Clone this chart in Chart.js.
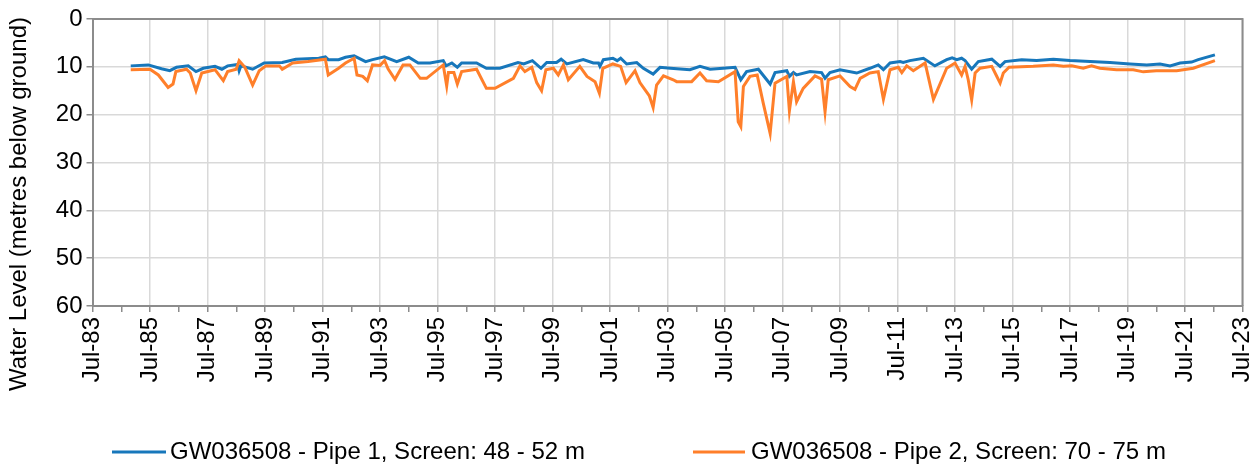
<!DOCTYPE html>
<html>
<head>
<meta charset="utf-8">
<script src="https://cdn.jsdelivr.net/npm/chart.js@4.4.1/dist/chart.umd.min.js"></script>
<style>
html,body{margin:0;padding:0;background:#fff;}
#wrap{width:1253px;height:465px;}
</style>
</head>
<body>
<div id="wrap"><canvas id="c" width="1253" height="465"></canvas></div>
<script>
// ---------------- data ----------------
const seriesNames = [
  'GW036508 - Pipe 1, Screen: 48 - 52 m',
  'GW036508 - Pipe 2, Screen: 70 - 75 m'
];
const axisTitleY = 'Water Level (metres below ground)';
const xTickLabels = ['Jul-83','Jul-85','Jul-87','Jul-89','Jul-91','Jul-93','Jul-95','Jul-97','Jul-99','Jul-01',
  'Jul-03','Jul-05','Jul-07','Jul-09','Jul-11','Jul-13','Jul-15','Jul-17','Jul-19','Jul-21','Jul-23'];
const yTickValues = [0, 10, 20, 30, 40, 50, 60];

// dates as decimal years, levels in metres below ground
const pipe1Dates = [1984.83,1985.44,1985.9,1986.19,1986.42,1986.83,1987.1,1987.35,1987.76,1988.0,
  1988.2,1988.55,1988.6,1988.66,1989.07,1989.47,1990.1,1990.57,1991.37,1991.6,
  1991.7,1992.06,1992.3,1992.6,1993.0,1993.24,1993.65,1994.08,1994.5,1994.83,
  1995.24,1995.7,1995.8,1996.0,1996.19,1996.34,1996.86,1997.2,1997.67,1998.3,
  1998.5,1998.8,1999.1,1999.3,1999.64,1999.8,2000.0,2000.57,2000.92,2001.1,
  2001.15,2001.27,2001.6,2001.75,2001.87,2002.08,2002.43,2002.66,2003.0,2003.24,
  2003.6,2004.28,2004.63,2004.98,2005.44,2005.85,2006.05,2006.25,2006.66,2007.07,
  2007.24,2007.65,2007.74,2007.88,2007.99,2008.46,2008.86,2008.98,2009.15,2009.5,
  2010.08,2010.54,2010.83,2011.01,2011.24,2011.59,2011.7,2011.93,2012.4,2012.8,
  2013.21,2013.4,2013.56,2013.73,2013.85,2014.08,2014.31,2014.78,2015.07,2015.24,
  2015.82,2016.34,2016.92,2017.5,2018.2,2018.89,2019.59,2020.17,2020.63,2020.98,
  2021.33,2021.73,2021.96,2022.54];
const pipe1Levels = [9.8,9.6,10.4,10.8,10.1,9.8,11.0,10.3,9.9,10.5,
  9.8,9.5,10.8,9.8,10.5,9.2,9.1,8.4,8.2,7.9,
  8.5,8.5,8.0,7.7,8.9,8.5,7.9,8.9,8.0,9.2,
  9.2,8.7,9.8,9.2,10.1,9.2,9.2,10.3,10.3,9.1,
  9.4,8.7,10.3,9.1,9.1,8.4,9.4,8.5,9.2,9.2,
  9.9,8.5,8.2,8.7,8.2,9.4,9.1,10.3,11.5,10.1,
  10.3,10.6,9.9,10.5,10.3,10.1,12.7,11.0,10.5,13.6,
  11.2,10.8,12.0,11.2,11.7,11.0,11.2,12.4,11.2,10.6,
  11.3,10.3,9.6,10.6,9.2,8.9,9.1,8.7,8.2,9.8,
  8.5,8.1,8.5,8.2,8.7,10.5,8.9,8.4,9.9,8.9,
  8.5,8.7,8.4,8.7,8.9,9.1,9.4,9.6,9.4,9.8,
  9.2,9.0,8.5,7.5];

const pipe2Dates = [1984.83,1985.5,1985.79,1986.13,1986.3,1986.4,1986.77,1986.9,1987.1,1987.3,
  1987.76,1988.05,1988.2,1988.5,1988.6,1988.8,1989.07,1989.3,1989.53,1990.0,
  1990.1,1990.46,1991.0,1991.6,1991.7,1992.06,1992.3,1992.6,1992.7,1992.9,
  1993.06,1993.24,1993.5,1993.66,1993.78,1994.02,1994.3,1994.54,1994.9,1995.12,
  1995.7,1995.82,1995.88,1996.07,1996.19,1996.34,1996.86,1997.2,1997.5,1998.14,
  1998.37,1998.54,1998.78,1998.95,1999.12,1999.27,1999.53,1999.7,1999.88,2000.05,
  2000.45,2000.7,2000.98,2001.13,2001.25,2001.6,2001.87,2002.06,2002.37,2002.54,
  2002.72,2002.87,2003.0,2003.12,2003.36,2003.7,2003.82,2004.34,2004.63,2004.86,
  2005.27,2005.85,2005.96,2006.05,2006.14,2006.37,2006.62,2006.83,2007.07,2007.24,
  2007.65,2007.74,2007.88,2007.99,2008.22,2008.63,2008.86,2008.98,2009.09,2009.5,
  2009.85,2010.02,2010.2,2010.54,2010.83,2011.01,2011.24,2011.53,2011.65,2011.82,
  2012.05,2012.46,2012.75,2013.04,2013.21,2013.5,2013.73,2013.85,2013.96,2014.08,
  2014.2,2014.37,2014.78,2014.93,2015.07,2015.18,2015.38,2016.22,2016.92,2017.27,
  2017.56,2017.96,2018.25,2018.54,2019.12,2019.7,2020.05,2020.5,2021.21,2021.79,
  2022.54];
const pipe2Levels = [10.6,10.5,11.7,14.3,13.6,11.0,10.5,11.3,15.0,11.3,
  10.6,12.9,11.0,10.5,8.7,10.1,13.8,10.8,9.8,9.8,
  10.5,9.2,8.9,8.4,11.7,10.3,9.2,8.2,11.7,12.0,
  12.9,9.6,9.7,8.7,10.4,12.6,9.6,9.6,12.4,12.4,
  9.6,14.0,11.2,11.2,13.6,11.0,10.5,14.5,14.5,12.4,
  9.8,11.0,10.1,13.3,15.0,10.6,10.3,11.7,9.6,12.7,
  9.9,12.0,13.1,15.5,10.3,9.4,9.9,13.3,10.8,13.3,
  14.8,16.1,18.5,13.8,11.9,12.7,13.1,13.1,11.3,12.9,
  13.1,11.0,21.5,22.5,14.1,12.0,11.7,17.6,23.9,13.4,
  12.0,19.2,13.1,17.3,14.5,11.9,12.6,19.4,12.7,11.9,
  14.1,14.7,12.4,11.3,11.0,16.8,10.6,10.1,11.2,9.8,
  10.8,9.2,16.8,12.7,10.3,9.2,11.7,9.9,12.7,16.9,
  11.3,10.3,9.9,11.7,13.4,11.3,10.1,9.9,9.6,9.9,
  9.8,10.3,9.8,10.3,10.6,10.6,11.05,10.8,10.8,10.3,
  8.7];

const seriesColors = ['#1777bb', '#ff7f2a'];

// ---------------- helpers ----------------
const X0 = 1983.5; // Jul-83 origin of the x axis
function toPoints(dates, levels) {
  return dates.map((d, i) => ({ x: d - X0, y: levels[i] }));
}

const FONT = "'Liberation Sans', Arial, sans-serif";
Chart.defaults.font.family = FONT;
Chart.defaults.color = '#000';

const AXIS = '#8c8c8c';
const GRID = '#d9d9d9';

// legend entries: [line start x, line end x, text x], centre y
const legendSlots = [[112, 166, 170], [693, 745, 751]];
const legendY = 452;

const decoPlugin = {
  id: 'deco',
  beforeDatasetsDraw(chart) {
    const { ctx, chartArea: a } = chart;
    ctx.save();
    ctx.strokeStyle = AXIS;
    ctx.lineWidth = 2;
    ctx.beginPath();
    ctx.moveTo(a.left, a.top);
    ctx.lineTo(a.right, a.top);
    ctx.lineTo(a.right, a.bottom);
    ctx.stroke();
    ctx.restore();
  },
  afterDraw(chart) {
    const { ctx } = chart;
    ctx.save();
    // y-axis title
    ctx.translate(19, 204);
    ctx.rotate(-Math.PI / 2);
    ctx.font = '24px ' + FONT;
    ctx.fillStyle = '#000';
    ctx.textAlign = 'center';
    ctx.textBaseline = 'middle';
    ctx.fillText(axisTitleY, 0, 0);
    ctx.restore();
    // legend
    ctx.save();
    ctx.font = '24px ' + FONT;
    ctx.textAlign = 'left';
    ctx.textBaseline = 'middle';
    chart.data.datasets.forEach((ds, i) => {
      const [x0, x1, tx] = legendSlots[i];
      ctx.strokeStyle = ds.borderColor;
      ctx.lineWidth = 3;
      ctx.beginPath();
      ctx.moveTo(x0, legendY);
      ctx.lineTo(x1, legendY);
      ctx.stroke();
      ctx.fillStyle = '#000';
      ctx.fillText(ds.label, tx, legendY);
    });
    ctx.restore();
  }
};

new Chart(document.getElementById('c'), {
  type: 'line',
  data: {
    datasets: [
      {
        label: seriesNames[0],
        data: toPoints(pipe1Dates, pipe1Levels),
        borderColor: seriesColors[0],
        backgroundColor: seriesColors[0],
        borderWidth: 3,
        pointRadius: 0,
        tension: 0,
        order: 1
      },
      {
        label: seriesNames[1],
        data: toPoints(pipe2Dates, pipe2Levels),
        borderColor: seriesColors[1],
        backgroundColor: seriesColors[1],
        borderWidth: 3,
        pointRadius: 0,
        tension: 0,
        order: 0
      }
    ]
  },
  options: {
    responsive: false,
    animation: false,
    devicePixelRatio: 1,
    layout: { padding: { left: 16, right: 0, top: 19, bottom: 0 } },
    plugins: {
      tooltip: { enabled: false },
      legend: { display: false }
    },
    scales: {
      x: {
        type: 'linear',
        min: 0,
        max: 40,
        afterFit: (s) => { s.height = 159; s.paddingRight = 10.5; s.paddingLeft = 0; },
        ticks: {
          stepSize: 1,
          autoSkip: false,
          maxRotation: 90,
          minRotation: 90,
          padding: 5,
          font: { size: 24 },
          color: '#000',
          callback: (v) => (v % 2 === 0 ? xTickLabels[v / 2] : '')
        },
        grid: {
          color: (c) => (c.tick && c.tick.value % 2 === 0 ? GRID : 'rgba(0,0,0,0)'),
          tickColor: AXIS,
          tickLength: 6,
          lineWidth: 1.5,
          tickWidth: 1.5
        },
        border: { color: AXIS, width: 2 }
      },
      y: {
        reverse: true,
        min: yTickValues[0],
        max: yTickValues[yTickValues.length - 1],
        afterFit: (s) => { s.width = 76.5; },
        afterBuildTicks: (s) => { s.ticks = yTickValues.map(v => ({ value: v })); },
        ticks: {
          padding: 4,
          font: { size: 24 },
          color: '#000'
        },
        grid: {
          color: GRID,
          tickColor: AXIS,
          tickLength: 6,
          lineWidth: 1.5,
          tickWidth: 1.5
        },
        border: { color: AXIS, width: 2 }
      }
    }
  },
  plugins: [decoPlugin]
});
</script>
</body>
</html>
